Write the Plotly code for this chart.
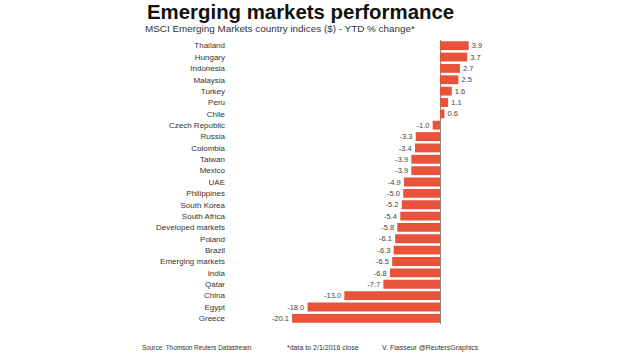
import plotly.graph_objects as go

countries = ["Thailand", "Hungary", "Indonesia", "Malaysia", "Turkey", "Peru", "Chile",
             "Czech Republic", "Russia", "Colombia", "Taiwan", "Mexico", "UAE", "Philippines",
             "South Korea", "South Africa", "Developed markets", "Poland", "Brazil",
             "Emerging markets", "India", "Qatar", "China", "Egypt", "Greece"]
values = [3.9, 3.7, 2.7, 2.5, 1.6, 1.1, 0.6, -1.0, -3.3, -3.4, -3.9, -3.9, -4.9, -5.0,
          -5.2, -5.4, -5.8, -6.1, -6.3, -6.5, -6.8, -7.7, -13.0, -18.0, -20.1]
value_labels = [f"{v:.1f}" for v in values]

BAR = "#E8533A"
FONT = "Liberation Sans, Arial, sans-serif"

ML, MR, MT, MB = 229, 130, 40, 31
W, H = 620, 355
pw = W - ML - MR
ph = H - MT - MB

def px(x):
    return (x - ML) / pw

def py(y):
    return (H - y - MB) / ph

fig = go.Figure(go.Bar(
    x=values, y=countries, orientation="h",
    marker=dict(color=BAR, line=dict(width=0)),
    text=value_labels, textposition="outside", cliponaxis=False,
    textfont=dict(size=8.5, color="#444", family=FONT),
    hoverinfo="skip",
))

n = len(countries)
ann_common = dict(xref="paper", yref="paper", showarrow=False, xanchor="left", yanchor="middle")
fig.update_layout(
    width=W, height=H,
    margin=dict(l=ML, r=MR, t=MT, b=MB, autoexpand=False),
    paper_bgcolor="white", plot_bgcolor="white",
    bargap=0.22, showlegend=False,
    font=dict(family=FONT),
    xaxis=dict(range=[-28.67, 6.79], showgrid=False, showticklabels=False, ticks="",
               zeroline=True, zerolinecolor="#888", zerolinewidth=1, fixedrange=True),
    yaxis=dict(autorange=False, range=[n - 0.5, -0.5], showgrid=False, ticks="",
               tickfont=dict(size=8, color="#333", family=FONT), ticklabelstandoff=3,
               categoryorder="array", categoryarray=countries, fixedrange=True),
    annotations=[
        dict(text="<b>Emerging markets performance</b>", x=px(145), y=py(11.5),
             font=dict(size=20.4, color="#111", family=FONT), **ann_common),
        dict(text="MSCI Emerging Markets country indices ($) - YTD % change*", x=px(143), y=py(28.5),
             font=dict(size=9.9, color="#333", family=FONT), **ann_common),
        dict(text="Source: Thomson Reuters Datastream", x=px(140), y=py(347.5),
             font=dict(size=6.4, color="#333", family=FONT), **ann_common),
        dict(text="*data to 2/1/2016 close", x=px(285), y=py(347.5),
             font=dict(size=7, color="#333", family=FONT), **ann_common),
        dict(text="V. Flasseur @ReutersGraphics", x=px(380), y=py(347.5),
             font=dict(size=7, color="#333", family=FONT), **ann_common),
    ],
)

fig.write_html("out.html", config={"displayModeBar": False},
               post_script="document.body.style.margin='0';")
